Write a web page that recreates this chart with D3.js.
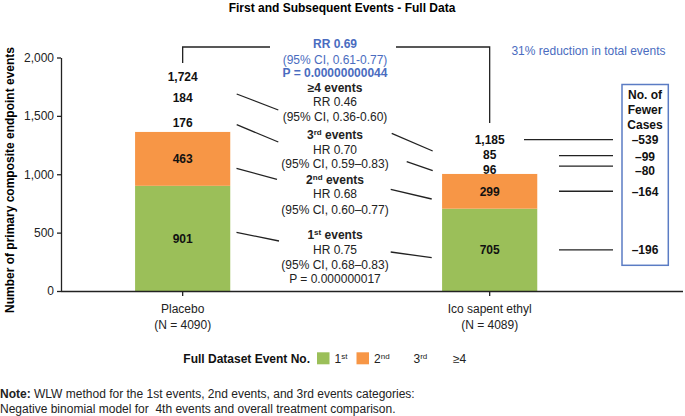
<!DOCTYPE html>
<html>
<head>
<meta charset="utf-8">
<script src="https://cdn.jsdelivr.net/npm/d3@7"></script>
<style>
  html, body { margin: 0; padding: 0; background: #fff; }
  svg { display: block; font-family: "Liberation Sans", Arial, Helvetica, sans-serif; }
</style>
</head>
<body>
<svg id="chart" width="685" height="416"></svg>
<script>
// ---------------- DATA ----------------
const categories = ["Placebo", "Ico sapent ethyl"];
const nLabels = ["(N = 4090)", "(N = 4089)"];
const eventKeys = ["1st", "2nd", "3rd", "≥4"];
const firstEvents = [901, 705];
const secondEvents = [463, 299];
const thirdEvents = [176, 96];
const fourPlusEvents = [184, 85];
const totalEvents = [1724, 1185];
// fewer cases: total, >=4, 3rd, 2nd, 1st
const fewerKeys = ["total", "≥4", "3rd", "2nd", "1st"];
const fewerCases = ["–539", "–99", "–80", "–164", "–196"];
const yTicks = [0, 500, 1000, 1500, 2000];
const title = "First and Subsequent Events - Full Data";
const yTitle = "Number of primary composite endpoint events";
const reductionText = "31% reduction in total events";

// ---------------- STYLE ----------------
const colors = { "1st": "#9bbf59", "2nd": "#f79646", "3rd": "#ffffff", "≥4": "#ffffff" };
const labelNudge = { "1st": 0, "2nd": 0, "3rd": 1.5, "≥4": -2.5 };
const blue = "#4a6cc0";
const lineColor = "#222";

const svg = d3.select("#chart");

// scales
const y = d3.scaleLinear().domain([0, 2000]).range([291, 57.5]);
const x = d3.scaleBand().domain(categories).range([61, 683])
  .paddingInner(0.69).paddingOuter(0.358).align(0.337);

// stacked data
const rows = categories.map((c, i) => ({
  cat: c,
  "1st": firstEvents[i], "2nd": secondEvents[i], "3rd": thirdEvents[i], "≥4": fourPlusEvents[i]
}));
const stacked = d3.stack().keys(eventKeys)(rows);

// title
svg.append("text").attr("x", 342).attr("y", 12).attr("text-anchor", "middle")
  .attr("font-size", 12).attr("font-weight", "bold").text(title);

// y axis
const yAxis = svg.append("g").attr("transform", "translate(61,0)")
  .call(d3.axisLeft(y).tickValues(yTicks).tickFormat(d3.format(",")).tickSize(4).tickSizeOuter(0).tickPadding(3));
yAxis.select(".domain").attr("stroke", lineColor).attr("stroke-width", 1.3);
yAxis.selectAll(".tick line").attr("stroke", lineColor).attr("stroke-width", 1.3);
yAxis.selectAll(".tick text").attr("font-size", 12).attr("fill", "#222")
  .attr("font-family", "'Liberation Sans', Arial, sans-serif");

svg.append("text").attr("transform", "translate(14,180) rotate(-90)")
  .attr("text-anchor", "middle").attr("font-size", 12).attr("font-weight", "bold").text(yTitle);

// bars
svg.append("g").selectAll("g").data(stacked).join("g")
  .attr("fill", d => colors[d.key])
  .selectAll("rect").data(d => d).join("rect")
  .attr("x", d => x(d.data.cat))
  .attr("width", x.bandwidth())
  .attr("y", d => y(d[1]))
  .attr("height", d => y(d[0]) - y(d[1]));

// x axis
const xAxis = svg.append("g").attr("transform", "translate(0,291)")
  .call(d3.axisBottom(x).tickSize(5).tickSizeOuter(0).tickFormat(() => ""));
xAxis.select(".domain").attr("stroke", lineColor).attr("stroke-width", 1.3)
  .attr("d", "M61,0.5H683");
xAxis.selectAll(".tick line").attr("stroke", lineColor).attr("stroke-width", 1.3);
categories.forEach((c, i) => {
  const cx = x(c) + x.bandwidth() / 2;
  svg.append("text").attr("x", cx).attr("y", 312.5).attr("text-anchor", "middle")
    .attr("font-size", 12).attr("fill", "#222").text(c);
  svg.append("text").attr("x", cx).attr("y", 328.5).attr("text-anchor", "middle")
    .attr("font-size", 12).attr("fill", "#222").text(nLabels[i]);
});

// segment labels
const segCenterY = {}; // [key][catIndex] segment centre
const segLabelY = {};  // [key][catIndex] label position
stacked.forEach(s => {
  segCenterY[s.key] = [];
  segLabelY[s.key] = [];
  s.forEach((d, i) => {
    const cy = y((d[0] + d[1]) / 2);
    const ly = cy + labelNudge[s.key];
    segCenterY[s.key][i] = cy;
    segLabelY[s.key][i] = ly;
    svg.append("text").attr("x", x(d.data.cat) + x.bandwidth() / 2).attr("y", ly + 4.3)
      .attr("text-anchor", "middle").attr("font-size", 12).attr("font-weight", "bold")
      .attr("fill", "#111").text(d3.format(",")(d[1] - d[0]));
  });
});
segCenterY["total"] = [];
segLabelY["total"] = [];
categories.forEach((c, i) => {
  const cy = y(totalEvents[i]) - 13;
  segCenterY["total"][i] = cy;
  segLabelY["total"][i] = cy;
  svg.append("text").attr("x", x(c) + x.bandwidth() / 2).attr("y", cy + 4.3)
    .attr("text-anchor", "middle").attr("font-size", 12).attr("font-weight", "bold")
    .attr("fill", "#111").text(d3.format(",")(totalEvents[i]));
});

// center annotation block
const annot = [
  { t: "RR 0.69", y: 43.3, b: true, c: blue },
  { t: "(95% CI, 0.61-0.77)", y: 59.3, c: blue },
  { t: "P = 0.00000000044", y: 72.7, b: true, c: blue },
  { t: "≥4 events", y: 87.3, b: true },
  { t: "RR 0.46", y: 101.7 },
  { t: "(95% CI, 0.36-0.60)", y: 116.7 },
  { t: "3", sup: "rd", t2: " events", y: 134.3, b: true },
  { t: "HR 0.70", y: 149.3 },
  { t: "(95% CI, 0.59–0.83)", y: 163.3 },
  { t: "2", sup: "nd", t2: " events", y: 179.3, b: true },
  { t: "HR 0.68", y: 194 },
  { t: "(95% CI, 0.60–0.77)", y: 209.3 },
  { t: "1", sup: "st", t2: " events", y: 234.3, b: true },
  { t: "HR 0.75", y: 249.3 },
  { t: "(95% CI, 0.68–0.83)", y: 264.3 },
  { t: "P = 0.000000017", y: 278.3 }
];
const blockX = 335;
annot.forEach(a => {
  const tx = svg.append("text").attr("x", blockX).attr("y", a.y + 4.3).attr("text-anchor", "middle")
    .attr("font-size", 12).attr("font-weight", a.b ? "bold" : "normal").attr("fill", a.c || "#222");
  tx.append("tspan").text(a.t);
  if (a.sup) {
    tx.append("tspan").attr("font-size", 8).attr("dy", -4).text(a.sup);
    tx.append("tspan").attr("dy", 4).text(a.t2);
  }
});

// bracket
const pcx = x(categories[0]) + x.bandwidth() / 2;
const icx = x(categories[1]) + x.bandwidth() / 2;
svg.append("path").attr("fill", "none").attr("stroke", lineColor).attr("stroke-width", 1.3)
  .attr("d", `M${pcx},63V47H270`);
svg.append("path").attr("fill", "none").attr("stroke", lineColor).attr("stroke-width", 1.3)
  .attr("d", `M396,47H${icx}V123`);

// connector lines
const connectors = [
  [236.7, 94, 278.3, 110], [236.7, 124.7, 278.3, 142], [236.5, 168.3, 277, 179.3], [236.5, 232.3, 279, 241],
  [391.7, 133.3, 432.7, 151], [406.7, 161.7, 432.7, 170.7], [390.7, 189.3, 431.7, 199], [390.7, 252, 431.7, 257.7]
];
svg.append("g").selectAll("line").data(connectors).join("line")
  .attr("x1", d => d[0]).attr("y1", d => d[1]).attr("x2", d => d[2]).attr("y2", d => d[3])
  .attr("stroke", lineColor).attr("stroke-width", 1.3);

// reduction text
svg.append("text").attr("x", 588.5).attr("y", 55).attr("text-anchor", "middle")
  .attr("font-size", 12).attr("fill", blue).text(reductionText);

// fewer cases box
svg.append("rect").attr("x", 622).attr("y", 84.5).attr("width", 46.3).attr("height", 180.8)
  .attr("fill", "none").attr("stroke", "#5b7cc4").attr("stroke-width", 1.5);
["No. of", "Fewer", "Cases"].forEach((t, i) => {
  svg.append("text").attr("x", 645).attr("y", 95 + i * 14.7 + 4.3).attr("text-anchor", "middle")
    .attr("font-size", 12).attr("font-weight", "bold").attr("fill", "#111").text(t);
});
const fewerOffsets = { "total": 0, "≥4": 1.5, "3rd": 1, "2nd": 0, "1st": 0 };
fewerKeys.forEach((k, i) => {
  const lineY = segCenterY[k][1] - (k === "≥4" || k === "3rd" ? 2 : 0);
  svg.append("line").attr("x1", k === "total" ? 524 : 559).attr("x2", 613)
    .attr("y1", lineY).attr("y2", lineY).attr("stroke", lineColor).attr("stroke-width", 1.3);
  svg.append("text").attr("x", 645).attr("y", segLabelY[k][1] + fewerOffsets[k] + 4.3).attr("text-anchor", "middle")
    .attr("font-size", 12).attr("font-weight", "bold").attr("fill", "#111").text(fewerCases[i]);
});

// legend
const lg = svg.append("g");
lg.append("text").attr("x", 310).attr("y", 362.5).attr("text-anchor", "end")
  .attr("font-size", 12).attr("font-weight", "bold").attr("fill", "#111").text("Full Dataset Event No.");
const legendSup = { "1st": ["1", "st"], "2nd": ["2", "nd"], "3rd": ["3", "rd"], "≥4": ["≥4", ""] };
eventKeys.forEach((k, i) => {
  const sx = 317 + i * 39.5;
  lg.append("rect").attr("x", sx).attr("y", 352.3).attr("width", 12.5).attr("height", 12)
    .attr("fill", colors[k]);
  const t = lg.append("text").attr("x", sx + 17.5).attr("y", 362.5).attr("font-size", 12).attr("fill", "#222");
  t.append("tspan").text(legendSup[k][0]);
  if (legendSup[k][1]) t.append("tspan").attr("font-size", 8).attr("dy", -4).text(legendSup[k][1]);
});

// note
const note1 = svg.append("text").attr("x", 0).attr("y", 397.5).attr("font-size", 12).attr("fill", "#222");
note1.append("tspan").attr("font-weight", "bold").text("Note:");
note1.append("tspan").text(" WLW method for the 1st events, 2nd events, and 3rd events categories:");
svg.append("text").attr("x", 0).attr("y", 413).attr("font-size", 12).attr("fill", "#222")
  .attr("xml:space", "preserve")
  .text("Negative binomial model for  4th events and overall treatment comparison.");
</script>
</body>
</html>
